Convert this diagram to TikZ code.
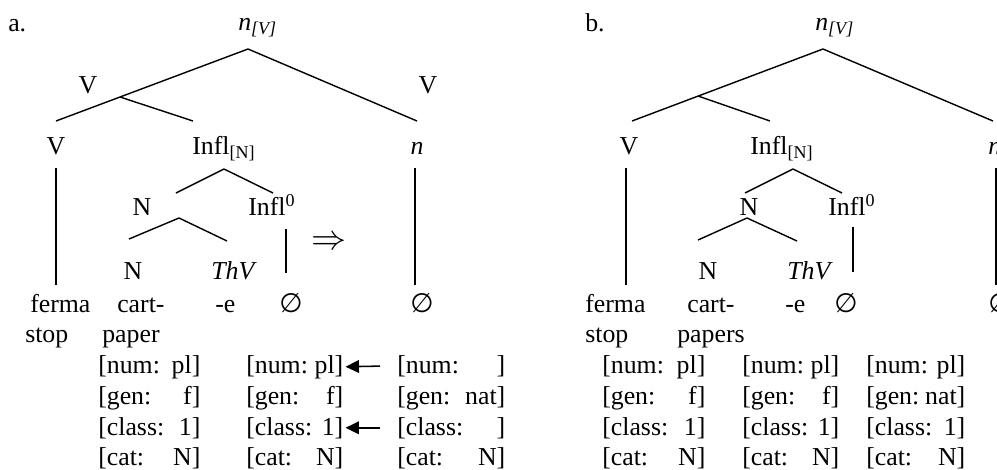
\documentclass[tikz,border=0pt]{standalone}
\usepackage{fontspec}
\setmainfont{Liberation Serif}[Ligatures=CommonOff]
\newfontfamily\symfont{DejaVu Sans}
\usetikzlibrary{arrows.meta}

\newcommand{\featbox}[3]{\makebox[#1][l]{[#2:\hfill#3]}}
\newcommand{\nul}{{\symfont\fontsize{19pt}{22pt}\selectfont ∅}}

\tikzset{
  lbl/.style={inner sep=0pt, anchor=base},
  lblw/.style={inner sep=0pt, anchor=base west},
  feat/.style={inner sep=0pt, anchor=base west},
  branch/.style={line width=1pt},
  copyarrow/.style={line width=1.1pt, -{Triangle[length=9.5pt,width=9pt]},
    shorten <=12pt, shorten >=1.4pt},
}

\begin{document}
\begin{tikzpicture}[x=0.025cm, y=-0.025cm,
    font=\fontsize{18.35pt}{22pt}\selectfont]
  \useasboundingbox (0,0) rectangle (997,469);

  % ---- a. ----
  \node[lblw] (a-lab)   at (8,31)    {a.};
  \node[lblw] (a-root)  at (238,30)  {\textit{n}\textsubscript{\textit{[V]}}};
  \node[lbl]  (a-vlab1) at (88,93)   {V};
  \node[lbl]  (a-vlab2) at (428,93)  {V};
  \node[lbl]  (a-v)     at (56,154)  {V};
  \node[lblw] (a-infl)  at (192,154) {Infl\textsubscript{[N]}};
  \node[lbl]  (a-n)     at (417,154) {\textit{n}};
  \node[lbl]  (a-nn)    at (142,215) {N};
  \node[lblw] (a-infl0) at (248,215) {Infl\textsuperscript{0}};
  \node[lbl]  (a-nstem) at (133,279) {N};
  \node[lbl]  (a-thv)   at (234,279) {\textit{ThV}};
  \node[inner sep=0pt, font=\fontsize{24pt}{26pt}\selectfont]
              (a-arrow) at (329,243) {$\Rightarrow$};
  \node[lblw] (a-ferma) at (30,312)  {ferma};
  \node[lblw] (a-cart)  at (117,312) {cart-};
  \node[lblw] (a-e)     at (215,312) {-e};
  \node[lbl]  (a-null1) at (291,312) {\nul};
  \node[lbl]  (a-null2) at (422,312) {\nul};
  \node[lblw] (a-stop)  at (25,342)  {stop};
  \node[lblw] (a-paper) at (102,342) {paper};

  \coordinate (a-top) at (248,49);
  \coordinate (a-lft) at (56,121);
  \coordinate (a-rgt) at (417,121);
  \coordinate (a-mid) at (120,97);
  \coordinate (a-inf) at (193,121);
  \coordinate (a-v1)  at (56,168);
  \coordinate (a-v2)  at (56,285);
  \coordinate (a-ip)  at (224,169);
  \coordinate (a-il)  at (176,193);
  \coordinate (a-ir)  at (273,193);
  \coordinate (a-np)  at (179,218);
  \coordinate (a-nl)  at (129,239);
  \coordinate (a-nr)  at (227,241);
  \coordinate (a-i1)  at (286,229);
  \coordinate (a-i2)  at (286,273);
  \coordinate (a-n1)  at (415,168);
  \coordinate (a-n2)  at (415,285);

  % ---- b. ----
  \node[lblw] (b-lab)    at (585,31)  {b.};
  \node[lblw] (b-root)   at (815,30)  {\textit{n}\textsubscript{\textit{[V]}}};
  \node[lbl]  (b-v)      at (629,154) {V};
  \node[lblw] (b-infl)   at (750,154) {Infl\textsubscript{[N]}};
  \node[lblw] (b-n)      at (988,154) {\textit{n}};
  \node[lbl]  (b-nn)     at (749,215) {N};
  \node[lblw] (b-infl0)  at (828,215) {Infl\textsuperscript{0}};
  \node[lbl]  (b-nstem)  at (708,279) {N};
  \node[lbl]  (b-thv)    at (810,279) {\textit{ThV}};
  \node[lblw] (b-ferma)  at (585,312) {ferma};
  \node[lblw] (b-cart)   at (687,312) {cart-};
  \node[lblw] (b-e)      at (785,312) {-e};
  \node[lbl]  (b-null1)  at (846,312) {\nul};
  \node[lblw] (b-null2)  at (988,312) {\nul};
  \node[lblw] (b-stop)   at (585,342) {stop};
  \node[lblw] (b-papers) at (677,342) {papers};

  \coordinate (b-top) at (823,49);
  \coordinate (b-lft) at (632,121);
  \coordinate (b-rgt) at (993,121);
  \coordinate (b-mid) at (698,96);
  \coordinate (b-inf) at (770,121);
  \coordinate (b-v1)  at (626,168);
  \coordinate (b-v2)  at (626,285);
  \coordinate (b-ip)  at (793,169);
  \coordinate (b-il)  at (745,193);
  \coordinate (b-ir)  at (842,193);
  \coordinate (b-np)  at (747,218);
  \coordinate (b-nl)  at (698,240);
  \coordinate (b-nr)  at (797,241);
  \coordinate (b-i1)  at (853,227);
  \coordinate (b-i2)  at (853,272);
  \coordinate (b-n1)  at (996,168);
  \coordinate (b-n2)  at (996,285);

  % branches
  \foreach \p in {a,b}{
    \foreach \s/\t in {top/lft, top/rgt, mid/inf, v1/v2, ip/il, ip/ir,
                       np/nl, np/nr, i1/i2, n1/n2}
      \draw[branch] (\p-\s) -- (\p-\t);
  }

  % feature columns
  \foreach \col/\x/\w/\vnum/\vgen/\vcls/\vcat in {
      a1/98/72.6pt/pl/f/1/N,
      a2/246/69pt/pl/f/1/N,
      a3/397/76.8pt/{}/nat/{}/N,
      b1/602/73.3pt/pl/f/1/N,
      b2/742/69pt/pl/f/1/N,
      b3/866/70.4pt/pl/nat/1/N}{
    \node[feat] (\col-num) at (\x,373) {\featbox{\w}{num}{\vnum}};
    \node[feat] (\col-gen) at (\x,404) {\featbox{\w}{gen}{\vgen}};
    \node[feat] (\col-cls) at (\x,435) {\featbox{\w}{class}{\vcls}};
    \node[feat] (\col-cat) at (\x,465) {\featbox{\w}{cat}{\vcat}};
  }

  \draw[copyarrow] (a3-num.west) -- (a2-num.east);
  \draw[copyarrow] (a3-cls.west) -- (a2-cls.east);
\end{tikzpicture}
\end{document}
